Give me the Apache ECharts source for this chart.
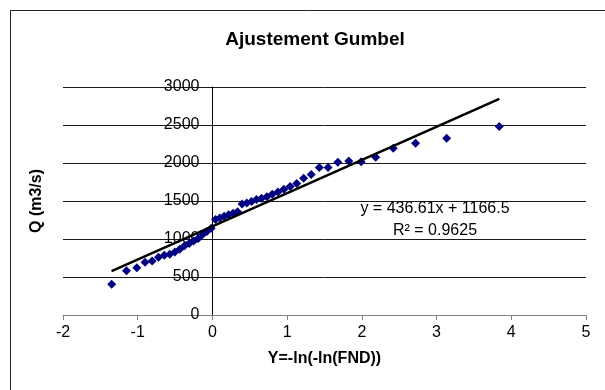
<!DOCTYPE html>
<html>
<head>
<meta charset="utf-8">
<script src="https://cdn.jsdelivr.net/npm/echarts@6/dist/echarts.min.js"></script>
<style>
html,body{margin:0;padding:0;background:#fff;}
#chart{width:605px;height:390px;}
</style>
</head>
<body>
<div id="chart"></div>
<script>
// Gumbel reduced variate Y = -ln(-ln(FND)) for each observation
var xValues = [-1.348, -1.150, -1.012, -0.902, -0.807, -0.722, -0.644, -0.571, -0.503, -0.437,
  -0.373, -0.311, -0.251, -0.191, -0.133, -0.075, -0.017, 0.041, 0.099, 0.157,
  0.216, 0.276, 0.336, 0.397, 0.460, 0.524, 0.590, 0.658, 0.728, 0.801,
  0.877, 0.956, 1.040, 1.128, 1.221, 1.322, 1.431, 1.548, 1.679, 1.825,
  1.991, 2.185, 2.420, 2.719, 3.135, 3.839];
// Q (m3/s)
var qValues = [404, 583, 622, 695, 712, 759, 785, 800, 830, 865,
  910, 940, 975, 1005, 1060, 1100, 1140, 1255, 1275, 1300,
  1320, 1340, 1360, 1460, 1475, 1495, 1520, 1535, 1555, 1590,
  1620, 1655, 1690, 1730, 1800, 1850, 1940, 1940, 2010, 2025,
  2015, 2075, 2195, 2260, 2325, 2480];
// Linear trend line endpoints (y = 436.61x + 1166.5)
var trendX = [-1.35, 3.84];
var trendY = [577, 2843];
var titleText = 'Ajustement Gumbel';
var xAxisName = 'Y=-ln(-ln(FND))';
var yAxisName = 'Q (m3/s)';
var equationText = 'y = 436.61x + 1166.5';
var r2Text = 'R\u00B2 = 0.9625';

var FONT = '"Liberation Sans", Arial, sans-serif';
var chart = echarts.init(document.getElementById('chart'), null, {renderer: 'canvas'});

var scatterData = xValues.map(function (x, i) { return [x, qValues[i]]; });
var trendData = trendX.map(function (x, i) { return [x, trendY[i]]; });

var GRID_L = 63, GRID_R = 19;
var plotW = 605 - GRID_L - GRID_R;
// shift the y axis so it sits at x = 0 (labels follow it)
var yAxisOffset = -plotW * (0 - (-2)) / (5 - (-2));

chart.setOption({
  animation: false,
  backgroundColor: '#ffffff',
  title: {
    text: titleText,
    left: 310,
    top: 25,
    textAlign: 'center',
    textStyle: {fontFamily: FONT, fontSize: 19, fontWeight: 'bold', color: '#000'}
  },
  grid: {left: GRID_L, right: GRID_R, top: 87, bottom: 75, containLabel: false, outerBoundsMode: 'none'},
  xAxis: {
    type: 'value',
    min: -2, max: 5, interval: 1,
    name: xAxisName,
    nameLocation: 'middle',
    nameGap: 36,
    nameTextStyle: {fontFamily: FONT, fontSize: 16, fontWeight: 'bold', color: '#000'},
    axisLine: {onZero: false, lineStyle: {color: '#808080', width: 1}},
    axisTick: {show: true, inside: false, length: 5, lineStyle: {color: '#808080'}},
    axisLabel: {fontFamily: FONT, fontSize: 16, color: '#000', margin: 10,
      formatter: function (v) { return String(v); }},
    splitLine: {show: false}
  },
  yAxis: {
    type: 'value',
    min: 0, max: 3000, interval: 500,
    offset: yAxisOffset,
    axisLine: {onZero: false, lineStyle: {color: '#000', width: 1}},
    axisTick: {show: false},
    axisLabel: {fontFamily: FONT, fontSize: 16, color: '#000', margin: 13,
      formatter: function (v) { return String(v); }},
    splitLine: {show: true, lineStyle: {color: '#1a1a1a', width: 1}}
  },
  graphic: [
    {
      type: 'rect', silent: true, z: 100,
      shape: {x: 10.5, y: 10.5, width: 700, height: 500},
      style: {fill: 'none', stroke: '#222', lineWidth: 1}
    },
    {
      type: 'text', silent: true, z: 100,
      x: 37, y: 201,
      rotation: Math.PI / 2,
      style: {text: yAxisName, font: 'bold 16px ' + FONT, fill: '#000', textAlign: 'center', textVerticalAlign: 'middle'}
    },
    {
      type: 'text', silent: true, z: 100,
      x: 435, y: 209,
      style: {text: equationText, font: '16px ' + FONT, fill: '#000', textAlign: 'center', textVerticalAlign: 'middle'}
    },
    {
      type: 'text', silent: true, z: 100,
      x: 435, y: 231,
      style: {text: r2Text, font: '16px ' + FONT, fill: '#000', textAlign: 'center', textVerticalAlign: 'middle'}
    }
  ],
  series: [
    {
      type: 'scatter',
      data: scatterData,
      symbol: 'diamond',
      symbolSize: 9,
      itemStyle: {color: '#000080', opacity: 1},
      z: 3
    },
    {
      type: 'line',
      data: trendData,
      showSymbol: false,
      symbol: 'none',
      lineStyle: {color: '#000', width: 2.5},
      z: 4
    }
  ]
});
</script>
</body>
</html>
